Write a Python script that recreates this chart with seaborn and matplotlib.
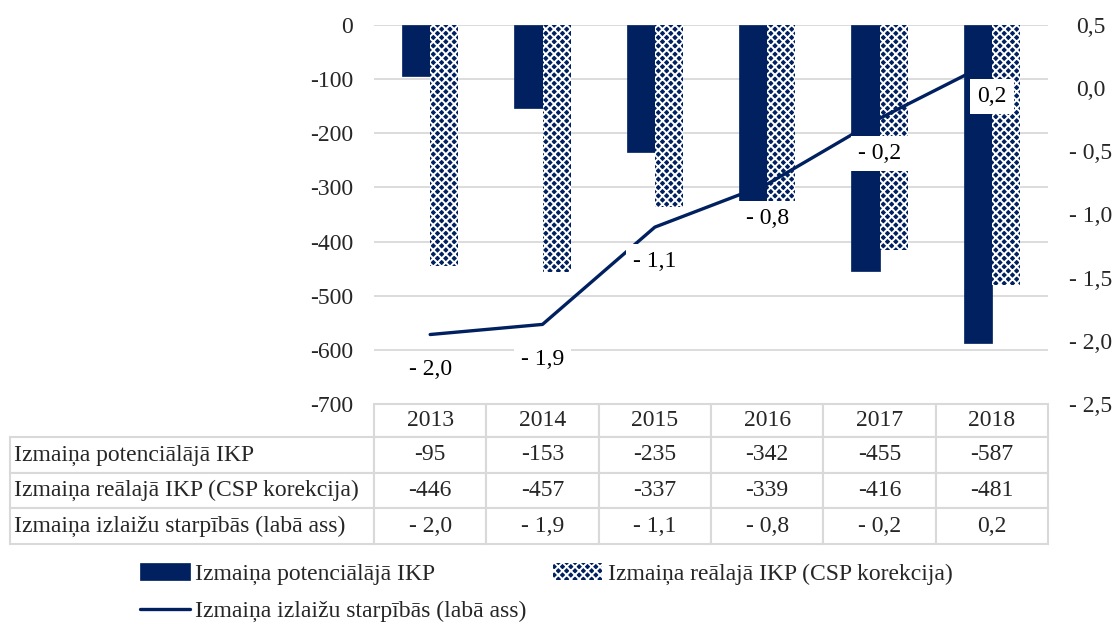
import numpy as np
import pandas as pd
import matplotlib
matplotlib.use("Agg")
import matplotlib.pyplot as plt
import seaborn as sns

years = ["2013", "2014", "2015", "2016", "2017", "2018"]
potential = [-95, -153, -235, -342, -455, -587]
real_csp = [-446, -457, -337, -339, -416, -481]
gap = [-1.95, -1.87, -1.10, -0.76, -0.24, 0.21]
gap_labels = [-2.0, -1.9, -1.1, -0.8, -0.2, 0.2]
name_pot = "Izmaiņa potenciālājā IKP"
name_real = "Izmaiņa reālajā IKP (CSP korekcija)"
name_gap = "Izmaiņa izlaižu starpībās (labā ass)"

NAVY = "#002060"
GRID = "#d9d9d9"
FS = 17

sns.set_theme(style="white")
plt.rcParams["font.family"] = ["Liberation Serif", "DejaVu Serif"]
plt.rcParams["hatch.color"] = "white"
plt.rcParams["hatch.linewidth"] = 1.4


def fmt_lv(v):
    s = f"{abs(v):.1f}".replace(".", ",")
    return ("- " + s) if v < -1e-9 else s


df = pd.DataFrame({
    "year": years * 2,
    "value": potential + real_csp,
    "series": [name_pot] * len(years) + [name_real] * len(years),
})

W, H = 1117, 626
fig = plt.figure(figsize=(W / 100, H / 100), dpi=100)
ax_l, ax_r, ax_t, ax_b = 374, 1048, 25, 404
ax = fig.add_axes([ax_l / W, 1 - ax_b / H, (ax_r - ax_l) / W, (ax_b - ax_t) / H])

sns.barplot(data=df, x="year", y="value", hue="series", palette=[NAVY, NAVY],
            width=0.5, ax=ax, legend=False, saturation=1)
for p in ax.containers[0]:
    p.set_edgecolor(NAVY)
    p.set_linewidth(0.5)
for p in ax.containers[1]:
    p.set_facecolor(NAVY)
    p.set_edgecolor("white")
    p.set_linewidth(0)
    p.set_hatch("xxxx")

ax.set_ylim(-700, 0)
ax.set_xlim(-0.5, len(years) - 0.5)
ax.set_yticks(np.arange(0, -701, -100))
ax.set_yticklabels([f"{int(t)}" for t in np.arange(0, -701, -100)], fontsize=FS)
ax.yaxis.grid(True, color=GRID, lw=1.3)
ax.set_axisbelow(True)
ax.set_xticks([])
ax.set_xlabel("")
ax.set_ylabel("")
ax.tick_params(axis="y", length=0, pad=15)
for s in ax.spines.values():
    s.set_visible(False)

ax2 = ax.twinx()
xpos = np.arange(len(years))
sns.lineplot(x=xpos, y=gap, ax=ax2, color=NAVY, lw=2.4)
ax2.set_ylim(-2.5, 0.5)
ax2.set_xlim(-0.5, len(years) - 0.5)
rt = np.arange(0.5, -2.51, -0.5)
ax2.set_yticks(rt)
ax2.set_yticklabels([fmt_lv(t) for t in rt], fontsize=FS)
ax2.tick_params(axis="y", length=0, pad=31)
for lab in ax2.get_yticklabels():
    lab.set_horizontalalignment("center")
ax2.set_ylabel("")
for s in ax2.spines.values():
    s.set_visible(False)
for x, y, lab in zip(xpos, gap, gap_labels):
    ax2.annotate(fmt_lv(lab), (x, y), xytext=(0, -25), textcoords="offset points",
                 ha="center", va="center", fontsize=FS, color="black",
                 bbox=dict(boxstyle="square,pad=0.3", fc="white", ec="none"),
                 zorder=5)

# data table
cell_text = [[""] + years,
             [name_pot] + [str(v) for v in potential],
             [name_real] + [str(v) for v in real_csp],
             [name_gap] + [fmt_lv(v) for v in gap_labels]]
tbl_left, tbl_bottom = 10, 544
bx = (tbl_left - ax_l) / (ax_r - ax_l)
by = (ax_b - tbl_bottom) / (ax_b - ax_t)
tbl = ax.table(cellText=cell_text, cellLoc="center",
               bbox=[bx, by, 1 - bx, -by])
tbl.auto_set_font_size(False)
tbl.set_fontsize(FS)
col_w = (ax_r - ax_l) / len(years)
for (r, c), cell in tbl.get_celld().items():
    cell.set_edgecolor(GRID)
    cell.set_linewidth(1.5)
    cell.set_width(364 if c == 0 else col_w)
    cell.set_height(33 if r == 0 else 35.5)
    cell.get_text().set_fontsize(FS)
    if c == 0:
        cell.get_text().set_ha("left")
        cell._loc = "left"
        cell.PAD = 0.012
    if r == 0 and c == 0:
        cell.visible_edges = ""

handles = [ax.containers[0][0], ax2.lines[0], ax.containers[1][0]]
labels = [name_pot, name_gap, name_real]
fig.legend(handles, labels, loc="upper left", bbox_to_anchor=(140 / W, 1 - 563 / H),
           ncol=2, frameon=False, fontsize=FS, handlelength=2.1, handletextpad=0.25,
           columnspacing=1.1, labelspacing=0.68, borderpad=0, borderaxespad=0)

fig.savefig("out.png", dpi=100, facecolor="white")
